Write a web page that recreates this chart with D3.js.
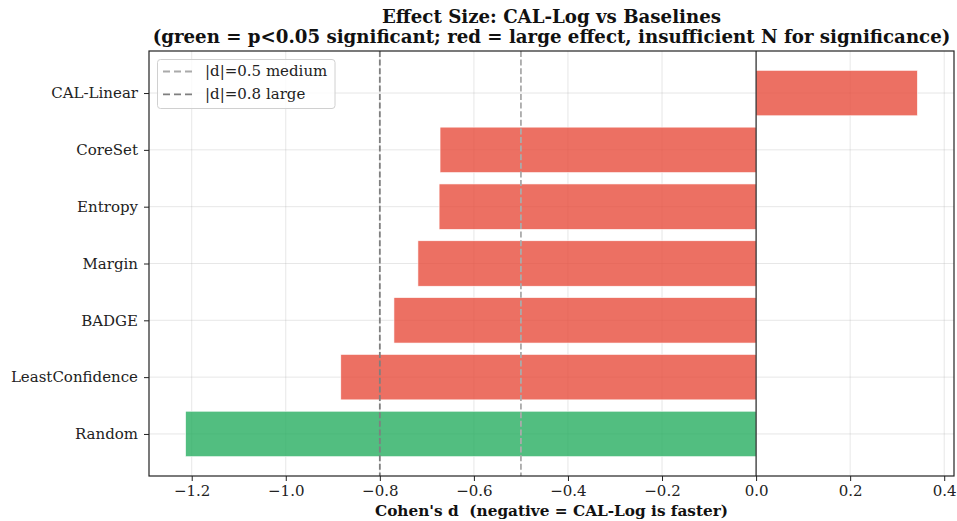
<!DOCTYPE html>
<html><head><meta charset="utf-8">
<script src="https://cdn.jsdelivr.net/npm/d3@7"></script>
<style>
body{margin:0;background:#fff;}
svg{display:block;font-family:"DejaVu Serif",serif;}
</style></head>
<body><svg id="c" width="957" height="521"></svg>
<script>
const categories = ["Random","LeastConfidence","BADGE","Margin","Entropy","CoreSet","CAL-Linear"];
const cohensD = [-1.213,-0.883,-0.770,-0.719,-0.674,-0.672,0.343];
const significant = [true,false,false,false,false,false,false];
const xTicks = [-1.2,-1.0,-0.8,-0.6,-0.4,-0.2,0.0,0.2,0.4];
const thresholds = [{v:-0.5,label:"|d|=0.5 medium",color:"#aaaaaa"},{v:-0.8,label:"|d|=0.8 large",color:"#7f7f7f"}];
const titleLines = ["Effect Size: CAL-Log vs Baselines","(green = p<0.05 significant; red = large effect, insufficient N for significance)"];
const xLabel = "Cohen's d  (negative = CAL-Log is faster)";

const svg = d3.select("#c");
const L=149, R=954, T=51, B=476;
const lo=d3.min(cohensD), hi=d3.max(cohensD), m=(hi-lo)*0.05;
const x = d3.scaleLinear().domain([lo-m, hi+m]).range([L,R]);
const y = d3.scaleLinear().domain([-0.74, 6.74]).range([B,T]);
const bh = y(0)-y(0.8);
const FS = "15px";

// grid
const g = svg.append("g");
g.selectAll(".gx").data(xTicks).join("line")
  .attr("x1",d=>x(d)).attr("x2",d=>x(d)).attr("y1",T).attr("y2",B)
  .attr("stroke","#b0b0b0").attr("stroke-opacity",0.3).attr("stroke-width",1);
g.selectAll(".gy").data(categories).join("line")
  .attr("x1",L).attr("x2",R).attr("y1",(d,i)=>y(i)).attr("y2",(d,i)=>y(i))
  .attr("stroke","#b0b0b0").attr("stroke-opacity",0.3).attr("stroke-width",1);

// bars
svg.selectAll(".bar").data(cohensD).join("rect")
  .attr("x",d=>x(Math.min(0,d))).attr("width",d=>Math.abs(x(d)-x(0)))
  .attr("y",(d,i)=>y(i)-bh/2).attr("height",bh)
  .attr("fill",(d,i)=>significant[i]?"#27ae60":"#e74c3c").attr("fill-opacity",0.8)
  .attr("stroke","#fff").attr("stroke-width",0.6);

// zero line
svg.append("line").attr("x1",x(0)).attr("x2",x(0)).attr("y1",T).attr("y2",B)
  .attr("stroke","#000").attr("stroke-width",1);

// thresholds
svg.selectAll(".th").data(thresholds).join("line")
  .attr("x1",d=>x(d.v)).attr("x2",d=>x(d.v)).attr("y1",T).attr("y2",B)
  .attr("stroke",d=>d.color).attr("stroke-width",1.8).attr("stroke-dasharray","6,2.6");

// axes
const xa = svg.append("g").attr("transform",`translate(0,${B})`)
  .call(d3.axisBottom(x).tickValues(xTicks).tickSize(5).tickPadding(4)
    .tickFormat(d=>d3.format(".1f")(d).replace("-","\u2212")));
xa.select(".domain").remove();
xa.selectAll("text").attr("font-size",FS).attr("fill","#222").attr("font-family","DejaVu Serif");
xa.selectAll("line").attr("stroke","#222");
const ya = svg.append("g").attr("transform",`translate(${L},0)`)
  .call(d3.axisLeft(y).tickValues(d3.range(categories.length)).tickSize(5).tickPadding(6)
    .tickFormat(i=>categories[i]));
ya.select(".domain").remove();
ya.selectAll("text").attr("font-size",FS).attr("fill","#222").attr("font-family","DejaVu Serif");
ya.selectAll("line").attr("stroke","#222");

// spines
svg.append("rect").attr("x",L).attr("y",T).attr("width",R-L).attr("height",B-T)
  .attr("fill","none").attr("stroke","#222").attr("stroke-width",1.2);

// title
svg.selectAll(".title").data(titleLines).join("text")
  .attr("x",(L+R)/2).attr("y",(d,i)=>22.5+i*20.5).attr("text-anchor","middle")
  .attr("font-weight","bold").attr("font-size","18.2px").attr("fill","#111").text(d=>d);

// x label
svg.append("text").attr("x",(L+R)/2).attr("y",515.5).attr("text-anchor","middle")
  .attr("font-weight","bold").attr("font-size","15.3px").attr("fill","#111")
  .style("white-space","pre").text(xLabel);

// legend
const lg = svg.append("g");
lg.append("rect").attr("x",157.5).attr("y",59.5).attr("width",177.5).attr("height",49).attr("rx",3)
  .attr("fill","#fff").attr("fill-opacity",0.8).attr("stroke","#d0d0d0");
thresholds.forEach((t,i)=>{
  const yy=71.5+i*22.8;
  lg.append("line").attr("x1",163).attr("x2",193).attr("y1",yy).attr("y2",yy)
    .attr("stroke",t.color).attr("stroke-width",1.8).attr("stroke-dasharray","7,4");
  lg.append("text").attr("x",205).attr("y",yy+4.5).attr("font-size",FS).attr("fill","#222").text(t.label);
});
</script></body></html>
